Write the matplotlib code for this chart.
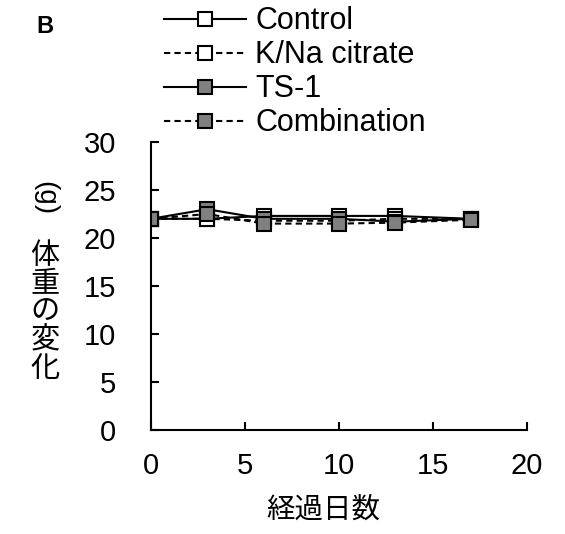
import matplotlib
matplotlib.use("Agg")
import matplotlib.pyplot as plt

plt.rcParams['font.family'] = ['Liberation Sans', 'Noto Sans CJK JP', 'DejaVu Sans']

days = [0, 3, 6, 10, 13, 17]
control = [22.0, 22.0, 22.3, 22.3, 22.3, 22.0]
kna_citrate = [22.0, 22.0, 21.8, 21.8, 22.0, 22.0]
ts1 = [22.0, 23.0, 22.0, 22.0, 21.7, 22.0]
combination = [22.0, 22.5, 21.5, 21.5, 21.6, 21.9]

series = [
    ("Control", control, "-", "white"),
    ("K/Na citrate", kna_citrate, (0, (3, 2)), "white"),
    ("TS-1", ts1, "-", "#808080"),
    ("Combination", combination, (0, (3, 2)), "#808080"),
]

fig = plt.figure(figsize=(5.65, 5.34), dpi=100)
ax = fig.add_axes([0.267, 0.195, 0.666, 0.539])

for name, vals, ls, fc in series:
    ax.plot(days, vals, linestyle=ls, color="black", linewidth=1.5,
            marker="s", markersize=10.5, markerfacecolor=fc,
            markeredgecolor="black", markeredgewidth=1.5, label=name)

ax.set_xlim(0, 20)
ax.set_ylim(0, 30)
ax.set_xticks([0, 5, 10, 15, 20])
ax.set_yticks([0, 5, 10, 15, 20, 25, 30])
ax.spines['top'].set_visible(False)
ax.spines['right'].set_visible(False)
for s in ['left', 'bottom']:
    ax.spines[s].set_linewidth(1.5)
ax.tick_params(axis='both', direction='in', length=6, width=1.5, labelsize=21)
ax.tick_params(axis='y', pad=25)
ax.tick_params(axis='x', pad=16)

ax.set_xlabel("経過日数", fontsize=20.5, family=['Noto Sans CJK JP'])
ax.xaxis.set_label_coords(0.457, -0.225)

fig.text(0.08, 0.63, "(g)", rotation=270, fontsize=20, ha='center', va='center',
         family=['Liberation Sans'])
fig.text(0.08, 0.415, "体\n重\nの\n変\n化", fontsize=21, ha='center', va='center',
         family=['Noto Sans CJK JP'], linespacing=0.92)
fig.text(0.065, 0.95, "B", fontsize=17, fontweight='bold', ha='left', va='center')

fig.legend(loc='upper left', bbox_to_anchor=(0.268, 1.011), frameon=False,
           fontsize=22, handlelength=2.7, handletextpad=0.3, labelspacing=0.13,
           borderaxespad=0)

fig.savefig("out.png", dpi=100)
